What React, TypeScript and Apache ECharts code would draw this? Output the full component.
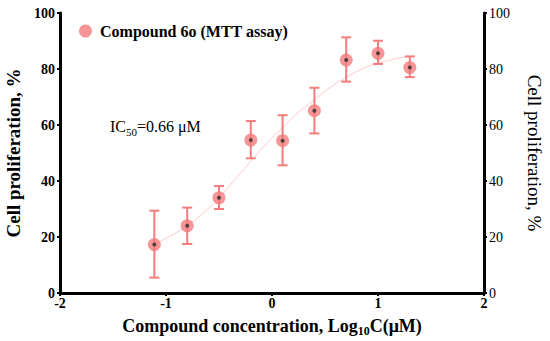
import React, { useEffect, useRef } from "react";
import * as echarts from "echarts";

const xValues = [-1.11, -0.8, -0.5, -0.2, 0.1, 0.4, 0.7, 1.0, 1.3];
const meanValues = [17.3, 24.0, 34.0, 54.6, 54.4, 65.1, 83.2, 85.6, 80.5];
const errLow = [5.5, 17.5, 30.0, 48.1, 45.6, 57.0, 75.5, 81.8, 77.1];
const errHigh = [29.4, 30.5, 38.2, 61.4, 63.5, 73.3, 91.3, 90.1, 84.5];
const fitX = [-1.11, -0.95, -0.8, -0.65, -0.5, -0.35, -0.2, -0.05, 0.1, 0.25, 0.4, 0.55, 0.7, 0.85, 1.0, 1.15, 1.3];
const fitY = [17.5, 20.5, 24.0, 28.5, 34.0, 40.5, 47.0, 53.5, 59.0, 64.5, 69.0, 73.5, 77.0, 80.0, 82.0, 83.5, 84.5];
const yTicks = [0, 20, 40, 60, 80, 100];
const xTicks = [-2, -1, 0, 1, 2];
const legendName = "Compound 6o (MTT assay)";

const SERIF = "'Liberation Serif', 'DejaVu Serif', serif";
const RED = "#f47c7c";

export default function App() {
  const ref = useRef<HTMLDivElement>(null);
  useEffect(() => {
    if (!ref.current) return;
    const chart = echarts.init(ref.current, undefined, { renderer: "svg" });
    const grid = { left: 60, right: 66, top: 13, bottom: 48, containLabel: false, outerBoundsMode: "none" };
    const axisLineStyle = { color: "#000", width: 3 };
    const tickStyle = { color: "#000", width: 2 };
    chart.setOption({
      animation: false,
      grid,
      legend: {
        data: [legendName],
        left: 74,
        top: 18,
        icon: "circle",
        itemWidth: 13,
        itemHeight: 13,
        itemGap: 8,
        textStyle: { fontFamily: SERIF, fontWeight: "bold", fontSize: 16, color: "#000", padding: [0, 0, 0, 3] },
      },
      xAxis: {
        type: "value",
        min: xTicks[0],
        max: xTicks[xTicks.length - 1],
        interval: 1,
        splitLine: { show: false },
        axisLine: { show: true, onZero: false, lineStyle: axisLineStyle },
        axisTick: { show: true, length: 3, lineStyle: tickStyle },
        axisLabel: { margin: 3, fontFamily: SERIF, fontWeight: "bold", fontSize: 14, color: "#000" },
        name: "{a|Compound concentration, Log}{s|10}{a|C(μM)}",
        nameLocation: "middle",
        nameGap: 24,
        nameTextStyle: {
          fontFamily: SERIF,
          fontWeight: "bold",
          fontSize: 18,
          color: "#000",
          rich: {
            a: { fontFamily: SERIF, fontWeight: "bold", fontSize: 18, color: "#000", lineHeight: 21, verticalAlign: "top" },
            s: { fontFamily: SERIF, fontWeight: "bold", fontSize: 12, color: "#000", lineHeight: 12, verticalAlign: "top", padding: [8, 0, 0, 0] },
          },
        },
      },
      yAxis: [
        {
          type: "value",
          position: "left",
          min: yTicks[0],
          max: yTicks[yTicks.length - 1],
          interval: 20,
          splitLine: { show: false },
          axisLine: { show: true, onZero: false, lineStyle: axisLineStyle },
          axisTick: { show: true, length: 3, lineStyle: tickStyle },
          axisLabel: { margin: 5, fontFamily: SERIF, fontWeight: "bold", fontSize: 14, color: "#000" },
          name: "Cell proliferation, %",
          nameLocation: "middle",
          nameGap: 35,
          nameTextStyle: { fontFamily: SERIF, fontWeight: "bold", fontSize: 19, color: "#000" },
        },
        {
          type: "value",
          position: "right",
          min: yTicks[0],
          max: yTicks[yTicks.length - 1],
          interval: 20,
          splitLine: { show: false },
          axisLine: { show: true, onZero: false, lineStyle: axisLineStyle },
          axisTick: { show: true, length: 3, lineStyle: tickStyle },
          axisLabel: { margin: 5, fontFamily: SERIF, fontSize: 14, color: "#000" },
          name: "Cell proliferation, %",
          nameLocation: "middle",
          nameRotate: -90,
          nameGap: 41,
          nameTextStyle: { fontFamily: SERIF, fontSize: 19, color: "#000" },
        },
      ],
      graphic: [
        {
          type: "text",
          left: 110,
          top: 118,
          style: {
            text: "{a|IC}{s|50}{a|=0.66 μM}",
            rich: {
              a: { fontFamily: SERIF, fontSize: 16, fill: "#000", lineHeight: 19, verticalAlign: "top" },
              s: { fontFamily: SERIF, fontSize: 11, fill: "#000", lineHeight: 11, verticalAlign: "top", padding: [8, 0, 0, 0] },
            },
          },
        },
      ],
      series: [
        {
          type: "line",
          name: "fit",
          data: fitX.map((x, i) => [x, fitY[i]]),
          smooth: true,
          symbol: "none",
          lineStyle: { color: "#fbc8c8", width: 1 },
          z: 1,
        },
        {
          type: "custom",
          name: "err",
          data: xValues.map((x, i) => [x, errLow[i], errHigh[i]]),
          renderItem: (params: any, api: any) => {
            const lo = api.coord([api.value(0), api.value(1)]);
            const hi = api.coord([api.value(0), api.value(2)]);
            const w = 5;
            const st = { stroke: RED, lineWidth: 2 };
            return {
              type: "group",
              children: [
                { type: "line", shape: { x1: lo[0], y1: lo[1], x2: hi[0], y2: hi[1] }, style: st },
                { type: "line", shape: { x1: lo[0] - w, y1: lo[1], x2: lo[0] + w, y2: lo[1] }, style: st },
                { type: "line", shape: { x1: hi[0] - w, y1: hi[1], x2: hi[0] + w, y2: hi[1] }, style: st },
              ],
            };
          },
          z: 2,
        },
        {
          type: "scatter",
          name: legendName,
          data: xValues.map((x, i) => [x, meanValues[i]]),
          symbol: "circle",
          symbolSize: 13,
          itemStyle: { color: RED },
          z: 3,
        },
        {
          type: "scatter",
          name: "center",
          data: xValues.map((x, i) => [x, meanValues[i]]),
          symbol: "circle",
          symbolSize: 4,
          itemStyle: { color: "#2b2b2b" },
          z: 4,
        },
      ],
    });
    return () => chart.dispose();
  }, []);
  return <div ref={ref} style={{ width: 550, height: 341, position: "absolute", left: 0, top: 0 }} />;
}
